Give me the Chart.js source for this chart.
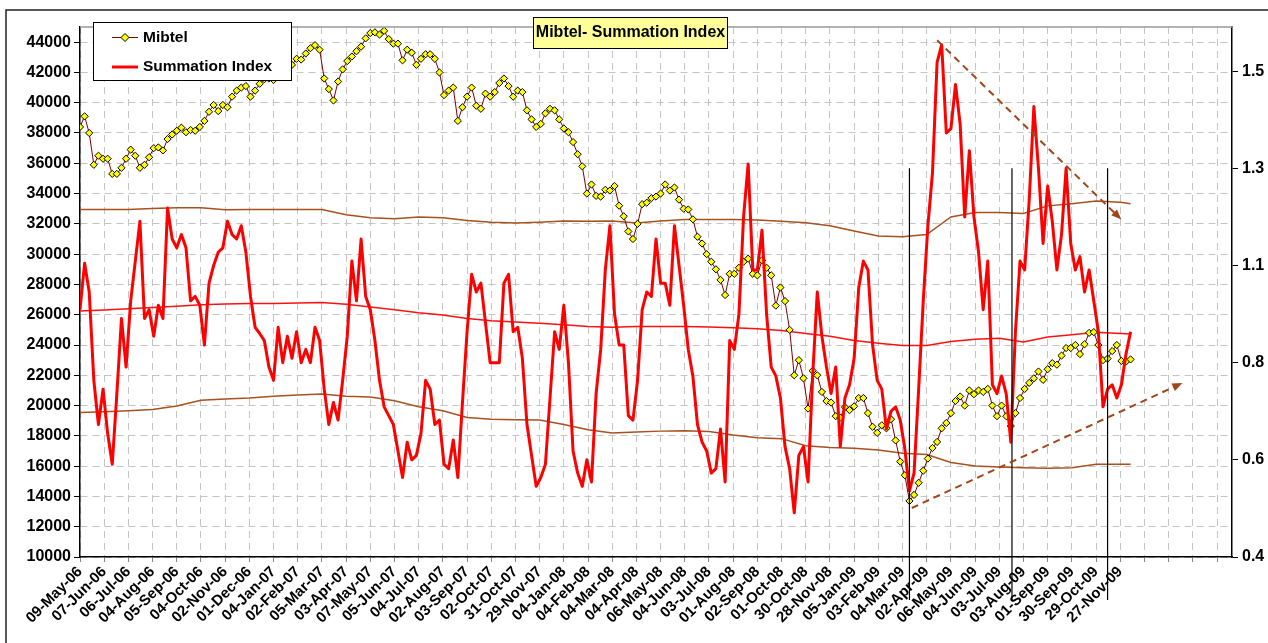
<!DOCTYPE html>
<html>
<head>
<meta charset="utf-8">
<title>Mibtel- Summation Index</title>
<script src="https://cdn.jsdelivr.net/npm/chart.js@4.4.0/dist/chart.umd.min.js"></script>
<style>
  html, body { margin: 0; padding: 0; background: #fff; }
  #wrap { width: 1268px; height: 643px; }
</style>
</head>
<body>
<div id="wrap"><canvas id="mibtelChart" width="1268" height="643"></canvas></div>
<script>
// x axis runs in trading days; one stored value every STEP days
const STEP = 4;
const LABEL_EVERY = 21;
const X_MAX = 1000;

const tickLabels = ['09-May-06', '07-Jun-06', '06-Jul-06', '04-Aug-06', '05-Sep-06', '04-Oct-06', '02-Nov-06',
    '01-Dec-06', '04-Jan-07', '02-Feb-07', '05-Mar-07', '03-Apr-07', '07-May-07', '05-Jun-07', '04-Jul-07',
    '02-Aug-07', '03-Sep-07', '02-Oct-07', '31-Oct-07', '29-Nov-07', '04-Jan-08', '04-Feb-08', '04-Mar-08',
    '04-Apr-08', '06-May-08', '04-Jun-08', '03-Jul-08', '01-Aug-08', '02-Sep-08', '01-Oct-08', '30-Oct-08',
    '28-Nov-08', '05-Jan-09', '03-Feb-09', '04-Mar-09', '02-Apr-09', '06-May-09', '04-Jun-09', '03-Jul-09',
    '03-Aug-09', '01-Sep-09', '30-Sep-09', '29-Oct-09', '27-Nov-09'];

const mibtel = [
    38400, 39100, 38000, 35900, 36500, 36300, 36300, 35300, 35300, 35700,
    36300, 36900, 36500, 35700, 35900, 36400, 37000, 37050, 36850, 37600,
    37900, 38150, 38350, 38050, 38200, 38150, 38400, 38800, 39400, 39850,
    39450, 39850, 39700, 40400, 40800, 41000, 41100, 40400, 40800, 41250,
    41550, 41600, 41500, 42200, 41900, 42600, 42500, 42900, 42850, 43250,
    43600, 43800, 43500, 41600, 40900, 40150, 41400, 42200, 42750, 43050,
    43400, 43700, 44250, 44600, 44650, 44500, 44750, 44200, 43900, 43900,
    42800, 43500, 43300, 42500, 42900, 43200, 43200, 42900, 42000, 40500,
    40800, 41000, 38800, 39700, 40400, 41000, 39800, 39600, 40600, 40400,
    40700, 41300, 41600, 41100, 40400, 40800, 40700, 39500, 38900, 38400,
    38600, 39300, 39600, 39500, 38900, 38300, 38050, 37400, 36600, 35800,
    34000, 34600, 33850, 33800, 34250, 34200, 34500, 33200, 32500, 31500,
    31000, 32000, 33300, 33400, 33700, 33800, 34000, 34600, 34200, 34400,
    33600, 33000, 32950, 32300, 31150, 30700, 30000, 29500, 29000, 28300,
    27300, 28700, 28700, 29100, 29500, 29700, 28700, 28600, 29600, 29100,
    28600, 26600, 27800, 26900, 25000, 22000, 23000, 21800, 19800, 22300,
    22000, 20900, 20300, 20200, 19300, 19200, 19900, 19700, 19950, 20500,
    20500, 19500, 18600, 18200, 18700, 18500, 19100, 17700, 16300, 15400,
    13700, 14100, 14900, 15700, 16500, 17200, 17600, 18500, 18850, 19500,
    20300, 20600, 20000, 21000, 20750, 21000, 20900, 21100, 20000, 19300,
    20000, 19300, 18650, 19500, 20500, 21100, 21500, 21800, 22250, 21700,
    22400, 22800, 22700, 23300, 23800, 23800, 24000, 23400, 24050, 24800,
    24850, 24000, 23000, 23100, 23600, 24000, 22950, 22900, 23050
];

const summation = [
    0.96, 1.065, 1.0, 0.80, 0.70, 0.78, 0.68, 0.61, 0.77, 0.94,
    0.83, 0.98, 1.07, 1.16, 0.94, 0.96, 0.90, 0.97, 0.94, 1.19,
    1.12, 1.10, 1.13, 1.10, 0.98, 0.99, 0.97, 0.88, 1.02, 1.06,
    1.09, 1.10, 1.16, 1.13, 1.12, 1.15, 1.09, 0.99, 0.92, 0.906,
    0.89, 0.83, 0.80, 0.92, 0.84, 0.90, 0.85, 0.91, 0.84, 0.87,
    0.84, 0.92, 0.89, 0.78, 0.70, 0.75, 0.71, 0.80, 0.90, 1.07,
    0.98, 1.12, 0.99, 0.96, 0.89, 0.80, 0.74, 0.72, 0.70, 0.64,
    0.58, 0.66, 0.62, 0.63, 0.68, 0.80, 0.78, 0.70, 0.71, 0.61,
    0.60, 0.665, 0.58, 0.75, 0.91, 1.04, 1.0, 1.02, 0.93, 0.84,
    0.84, 0.84, 1.02, 1.04, 0.91, 0.92, 0.85, 0.70, 0.63, 0.56,
    0.58, 0.61, 0.76, 0.91, 0.87, 0.97, 0.84, 0.64, 0.59, 0.56,
    0.62, 0.57, 0.77, 0.87, 1.05, 1.15, 0.95, 0.88, 0.88, 0.72,
    0.71, 0.80, 0.96, 1.0, 0.99, 1.12, 1.02, 1.02, 0.97, 1.15,
    1.06, 0.97, 0.87, 0.81, 0.70, 0.66, 0.64, 0.59, 0.60, 0.69,
    0.57, 0.89, 0.87, 0.95, 1.17, 1.29, 1.05, 1.05, 1.14, 0.95,
    0.83, 0.81, 0.76, 0.65, 0.60, 0.50, 0.63, 0.65, 0.57, 0.81,
    1.0, 0.90, 0.83, 0.77, 0.83, 0.65, 0.76, 0.79, 0.85, 1.01,
    1.07, 1.05, 0.88, 0.80, 0.78, 0.69, 0.73, 0.74, 0.71, 0.645,
    0.55, 0.59, 0.78, 0.98, 1.15, 1.27, 1.52, 1.56, 1.36, 1.37,
    1.47, 1.38, 1.17, 1.32, 1.17, 1.09, 0.96, 1.07, 0.79, 0.77,
    0.81, 0.77, 0.66, 0.91, 1.07, 1.05, 1.21, 1.42, 1.28, 1.11,
    1.24, 1.16, 1.05, 1.13, 1.28, 1.11, 1.05, 1.08, 1.0, 1.05,
    0.98, 0.91, 0.74, 0.78, 0.79, 0.76, 0.79, 0.86, 0.91
];

// bands of the summation index, one value every 21 days, last one at the end of the data
const upperBand = [1.187, 1.187, 1.187, 1.189, 1.191, 1.191, 1.186, 1.187, 1.187, 1.187, 1.187, 1.175,
    1.168, 1.166, 1.17, 1.168, 1.162, 1.158, 1.156, 1.158, 1.161, 1.16, 1.161, 1.156, 1.161, 1.164, 1.164,
    1.164, 1.163, 1.16, 1.157, 1.15, 1.138, 1.127, 1.125, 1.13, 1.17, 1.18, 1.18, 1.178, 1.195, 1.2,
    1.206, 1.203, 1.2];
const middleBand = [0.957, 0.959, 0.962, 0.965, 0.968, 0.971, 0.973, 0.974, 0.974, 0.975, 0.976, 0.972,
    0.966, 0.96, 0.953, 0.948, 0.94, 0.935, 0.932, 0.929, 0.926, 0.922, 0.92, 0.922, 0.922, 0.922, 0.921,
    0.919, 0.917, 0.913, 0.906, 0.9, 0.89, 0.884, 0.879, 0.879, 0.888, 0.893, 0.895, 0.887, 0.898, 0.903,
    0.909, 0.906, 0.905];
const lowerBand = [0.727, 0.729, 0.731, 0.734, 0.742, 0.755, 0.758, 0.76, 0.764, 0.767, 0.769, 0.764,
    0.762, 0.754, 0.74, 0.731, 0.716, 0.712, 0.711, 0.71, 0.7, 0.688, 0.681, 0.683, 0.685, 0.686, 0.684,
    0.676, 0.67, 0.668, 0.652, 0.648, 0.646, 0.642, 0.635, 0.632, 0.614, 0.606, 0.604, 0.602, 0.601, 0.602,
    0.61, 0.61, 0.61];

const rightTicks = [0.4, 0.62, 0.84, 1.06, 1.28, 1.5];

// vertical marker lines (trading day) and trend arrows (day, summation value)
const markerDays = [720, 809, 892];
const markerTop = 1.28;
const trendArrows = [
    { from: [744, 1.57], to: [904, 1.164] },
    { from: [722, 0.511], to: [957, 0.794] }
];

const FONT = "'Liberation Sans', Arial, sans-serif";
const lastDay = (mibtel.length - 1) * STEP;
const toPoints = arr => arr.map((v, i) => ({ x: i * STEP, y: v }));
const bandPoints = arr => arr.map((v, k) => ({ x: Math.min(k * LABEL_EVERY, lastDay), y: v }));

function drawArrow(ctx, x1, y1, x2, y2) {
    const ang = Math.atan2(y2 - y1, x2 - x1);
    const head = 11;
    ctx.setLineDash([7, 5]);
    ctx.beginPath();
    ctx.moveTo(x1, y1);
    ctx.lineTo(x2 - head * 0.8 * Math.cos(ang), y2 - head * 0.8 * Math.sin(ang));
    ctx.stroke();
    ctx.setLineDash([]);
    ctx.beginPath();
    ctx.moveTo(x2, y2);
    ctx.lineTo(x2 - head * Math.cos(ang - 0.38), y2 - head * Math.sin(ang - 0.38));
    ctx.lineTo(x2 - head * Math.cos(ang + 0.38), y2 - head * Math.sin(ang + 0.38));
    ctx.closePath();
    ctx.fill();
}

const decor = {
    id: 'decor',
    beforeDraw(chart) {
        const { ctx, width, height } = chart;
        ctx.save();
        ctx.fillStyle = '#fff';
        ctx.fillRect(0, 0, width, height);
        // outer frame
        ctx.strokeStyle = '#222';
        ctx.lineWidth = 1.5;
        ctx.beginPath();
        ctx.moveTo(6, height + 2);
        ctx.lineTo(6, 10);
        ctx.lineTo(width + 2, 10);
        ctx.stroke();
        ctx.restore();
    },
    afterDatasetsDraw(chart) {
        const { ctx, chartArea, scales: { x, y2 } } = chart;
        ctx.save();
        ctx.strokeStyle = '#999';
        ctx.lineWidth = 1.5;
        ctx.beginPath();
        ctx.moveTo(chartArea.left, chartArea.top);
        ctx.lineTo(chartArea.right, chartArea.top);
        ctx.stroke();

        ctx.strokeStyle = '#000';
        ctx.lineWidth = 1.2;
        markerDays.forEach(d => {
            const px = x.getPixelForValue(d);
            ctx.beginPath();
            ctx.moveTo(px, y2.getPixelForValue(markerTop));
            ctx.lineTo(px, chartArea.bottom + 43);
            ctx.stroke();
        });

        ctx.strokeStyle = '#a0461a';
        ctx.fillStyle = '#a0461a';
        ctx.lineWidth = 2;
        trendArrows.forEach(a => {
            drawArrow(ctx,
                x.getPixelForValue(a.from[0]), y2.getPixelForValue(a.from[1]),
                x.getPixelForValue(a.to[0]), y2.getPixelForValue(a.to[1]));
        });
        ctx.restore();
    },
    afterDraw(chart) {
        const ctx = chart.ctx;
        ctx.save();
        // title box
        ctx.fillStyle = '#ffff99';
        ctx.fillRect(533.5, 17.5, 194, 31);
        ctx.strokeStyle = '#000';
        ctx.lineWidth = 1;
        ctx.strokeRect(533.5, 17.5, 194, 31);
        ctx.fillStyle = '#000';
        ctx.font = 'bold 16px ' + FONT;
        ctx.textAlign = 'center';
        ctx.textBaseline = 'middle';
        ctx.fillText('Mibtel- Summation Index', 630.5, 33);

        // legend
        ctx.fillStyle = '#fff';
        ctx.fillRect(93.5, 22.5, 198, 58);
        ctx.strokeRect(93.5, 22.5, 198, 58);
        ctx.strokeStyle = '#800000';
        ctx.lineWidth = 1;
        ctx.beginPath();
        ctx.moveTo(112, 37.5);
        ctx.lineTo(138, 37.5);
        ctx.stroke();
        ctx.fillStyle = '#ffff00';
        ctx.strokeStyle = '#000';
        ctx.beginPath();
        ctx.moveTo(125, 33.5);
        ctx.lineTo(129, 37.5);
        ctx.lineTo(125, 41.5);
        ctx.lineTo(121, 37.5);
        ctx.closePath();
        ctx.fill();
        ctx.stroke();
        ctx.strokeStyle = '#ff0000';
        ctx.lineWidth = 3;
        ctx.beginPath();
        ctx.moveTo(112, 67);
        ctx.lineTo(138, 67);
        ctx.stroke();
        ctx.fillStyle = '#000';
        ctx.font = 'bold 15.5px ' + FONT;
        ctx.textAlign = 'left';
        ctx.fillText('Mibtel', 143, 38);
        ctx.fillText('Summation Index', 143, 67);
        ctx.restore();
    }
};

const tickFont = { family: FONT, size: 16, weight: 'bold' };

new Chart(document.getElementById('mibtelChart'), {
    type: 'line',
    data: {
        datasets: [{
            label: 'Summation Index',
            data: toPoints(summation),
            yAxisID: 'y2',
            borderColor: '#ff0000',
            borderWidth: 3,
            pointRadius: 0,
            borderJoinStyle: 'round'
        }, {
            label: 'Mibtel',
            data: toPoints(mibtel),
            yAxisID: 'y',
            borderColor: '#800000',
            borderWidth: 1,
            pointStyle: 'rectRot',
            pointRadius: 3.6,
            pointBorderWidth: 1,
            pointBackgroundColor: '#ffff00',
            pointBorderColor: '#000'
        }, {
            label: 'Upper',
            data: bandPoints(upperBand),
            yAxisID: 'y2',
            borderColor: '#a8501e',
            borderWidth: 1.5,
            pointRadius: 0
        }, {
            label: 'Middle',
            data: bandPoints(middleBand),
            yAxisID: 'y2',
            borderColor: '#ff1010',
            borderWidth: 1.5,
            pointRadius: 0
        }, {
            label: 'Lower',
            data: bandPoints(lowerBand),
            yAxisID: 'y2',
            borderColor: '#a8501e',
            borderWidth: 1.5,
            pointRadius: 0
        }]
    },
    options: {
        responsive: false,
        animation: false,
        devicePixelRatio: 1,
        layout: { padding: { top: 27, left: 0, right: 0, bottom: 0 } },
        elements: { line: { tension: 0 } },
        plugins: {
            legend: { display: false },
            tooltip: { enabled: false }
        },
        scales: {
            x: {
                type: 'linear',
                min: 0,
                max: X_MAX,
                afterBuildTicks: s => {
                    s.ticks = [];
                    for (let d = 0; d <= X_MAX; d += LABEL_EVERY) s.ticks.push({ value: d });
                },
                afterFit: s => { s.height = 86; },
                ticks: {
                    autoSkip: false,
                    minRotation: 45,
                    maxRotation: 45,
                    padding: 1,
                    color: '#000',
                    font: { family: FONT, size: 15, weight: 'bold' },
                    callback: v => tickLabels[Math.round(v / LABEL_EVERY)] || ''
                },
                grid: { color: '#c4c4c4', tickColor: '#888', tickLength: 5, tickBorderDash: [] },
                border: { color: '#000', width: 1.5, dash: [7, 5] }
            },
            y: {
                position: 'left',
                min: 10000,
                max: 45000,
                afterBuildTicks: s => {
                    s.ticks = [];
                    for (let v = 10000; v <= 44000; v += 2000) s.ticks.push({ value: v });
                },
                afterFit: s => { s.width = 80; },
                ticks: { color: '#000', padding: 3, font: tickFont, callback: v => String(v) },
                grid: { color: '#c4c4c4', tickColor: '#000', tickLength: 6, tickBorderDash: [] },
                border: { color: '#000', width: 1.5, dash: [7, 5] }
            },
            y2: {
                position: 'right',
                min: 0.4,
                max: 1.6,
                afterBuildTicks: s => { s.ticks = rightTicks.map(v => ({ value: v })); },
                afterFit: s => { s.width = 36; },
                ticks: { color: '#000', padding: 4, font: tickFont, callback: v => v.toFixed(1) },
                grid: { drawOnChartArea: false, tickColor: '#000', tickLength: 6 },
                border: { color: '#000', width: 1.5 }
            }
        }
    },
    plugins: [decor]
});
</script>
</body>
</html>
